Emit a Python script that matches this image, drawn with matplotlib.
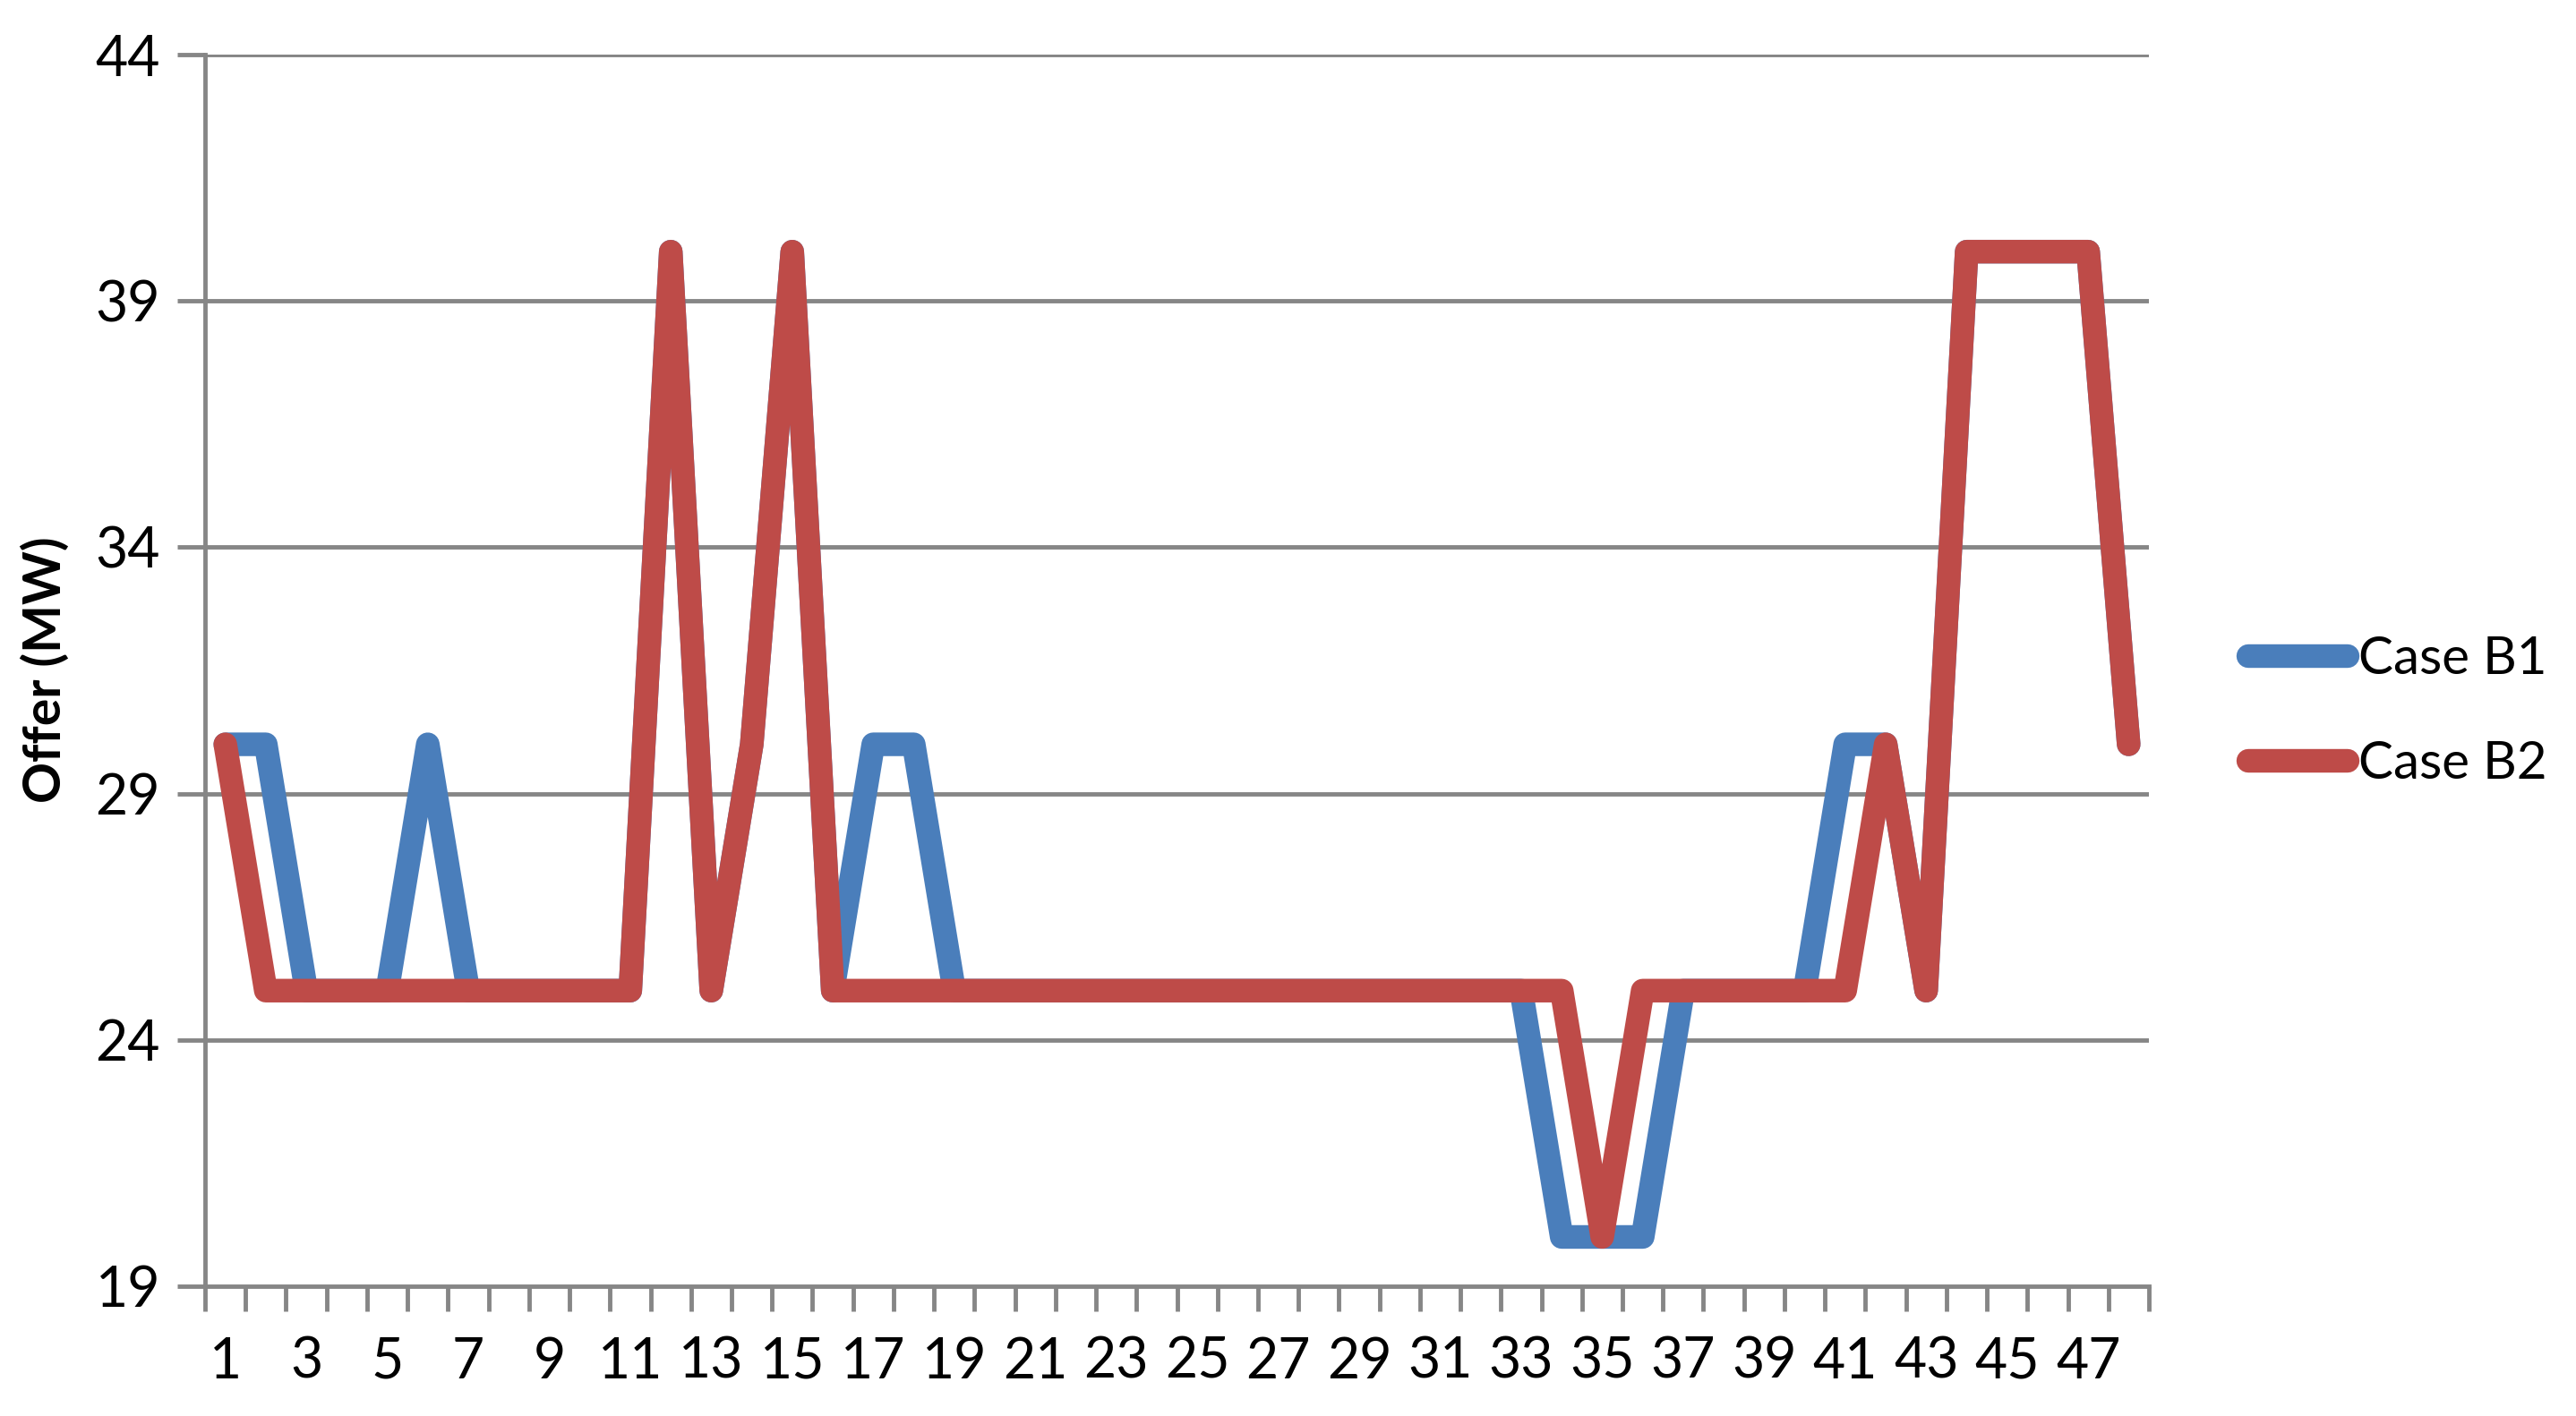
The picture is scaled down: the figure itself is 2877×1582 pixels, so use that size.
import numpy as np
import matplotlib.pyplot as plt
from matplotlib.ticker import FixedLocator

# Datos
horas = list(range(1, 49))
case_b1 = [30, 30, 25, 25, 25, 30, 25, 25, 25, 25,
           25, 40, 25, 30, 40, 25, 30, 30, 25, 25,
           25, 25, 25, 25, 25, 25, 25, 25, 25, 25,
           25, 25, 25, 20, 20, 20, 25, 25, 25, 25,
           30, 30, 25, 40, 40, 40, 40, 30]
case_b2 = [30, 25, 25, 25, 25, 25, 25, 25, 25, 25,
           25, 40, 25, 30, 40, 25, 25, 25, 25, 25,
           25, 25, 25, 25, 25, 25, 25, 25, 25, 25,
           25, 25, 25, 25, 20, 25, 25, 25, 25, 25,
           25, 30, 25, 40, 40, 40, 40, 30]
y_ticks = [19, 24, 29, 34, 39, 44]
x_labels = [str(h) for h in horas if h % 2 == 1]

plt.rcParams['font.family'] = ['Lato', 'DejaVu Sans']

fig = plt.figure(figsize=(28.77, 15.82), dpi=100)
ax = fig.add_axes([229 / 2877, 1 - 1437 / 1582, (2400 - 229) / 2877, (1437 - 61) / 1582])

gris = '#868686'
ax.plot(horas, case_b1, color='#4A7EBB', lw=19, solid_capstyle='round',
        solid_joinstyle='round', label='Case B1', zorder=3)
ax.plot(horas, case_b2, color='#BE4B48', lw=19, solid_capstyle='round',
        solid_joinstyle='round', label='Case B2', zorder=4)

ax.set_xlim(0.5, 48.5)
ax.set_ylim(19, 44)
ax.set_yticks(y_ticks)
for y in y_ticks[1:]:
    ax.axhline(y, color=gris, lw=3.5, zorder=1)

ax.set_xticks([h for h in horas if h % 2 == 1])
ax.set_xticklabels(x_labels)
ax.xaxis.set_minor_locator(FixedLocator(np.arange(0.5, 49, 1)))
ax.tick_params(axis='x', which='major', length=0, pad=40, labelsize=45)
ax.tick_params(axis='x', which='minor', length=20, width=3.5, color=gris, direction='out')
ax.tick_params(axis='y', length=22, width=3.5, color=gris, pad=14, labelsize=45)

for s in ['top', 'right']:
    ax.spines[s].set_visible(False)
for s in ['left', 'bottom']:
    ax.spines[s].set_color(gris)
    ax.spines[s].set_linewidth(3.5)
ax.spines['bottom'].set_zorder(2)

fig.text(51 / 2877, 1 - 748 / 1582, 'Offer (MW)', rotation=90, ha='center', va='center',
         fontsize=41, fontweight='bold')

leg = ax.legend(loc='center left', bbox_to_anchor=(2482 / 2877, 1 - 795 / 1582),
                bbox_transform=fig.transFigure, frameon=False, fontsize=42,
                handlelength=1.9, handletextpad=0.2, labelspacing=1.1, borderpad=0)
for l in leg.get_lines():
    l.set_linewidth(19)
    l.set_solid_capstyle('round')

fig.savefig('out.png', dpi=100)
